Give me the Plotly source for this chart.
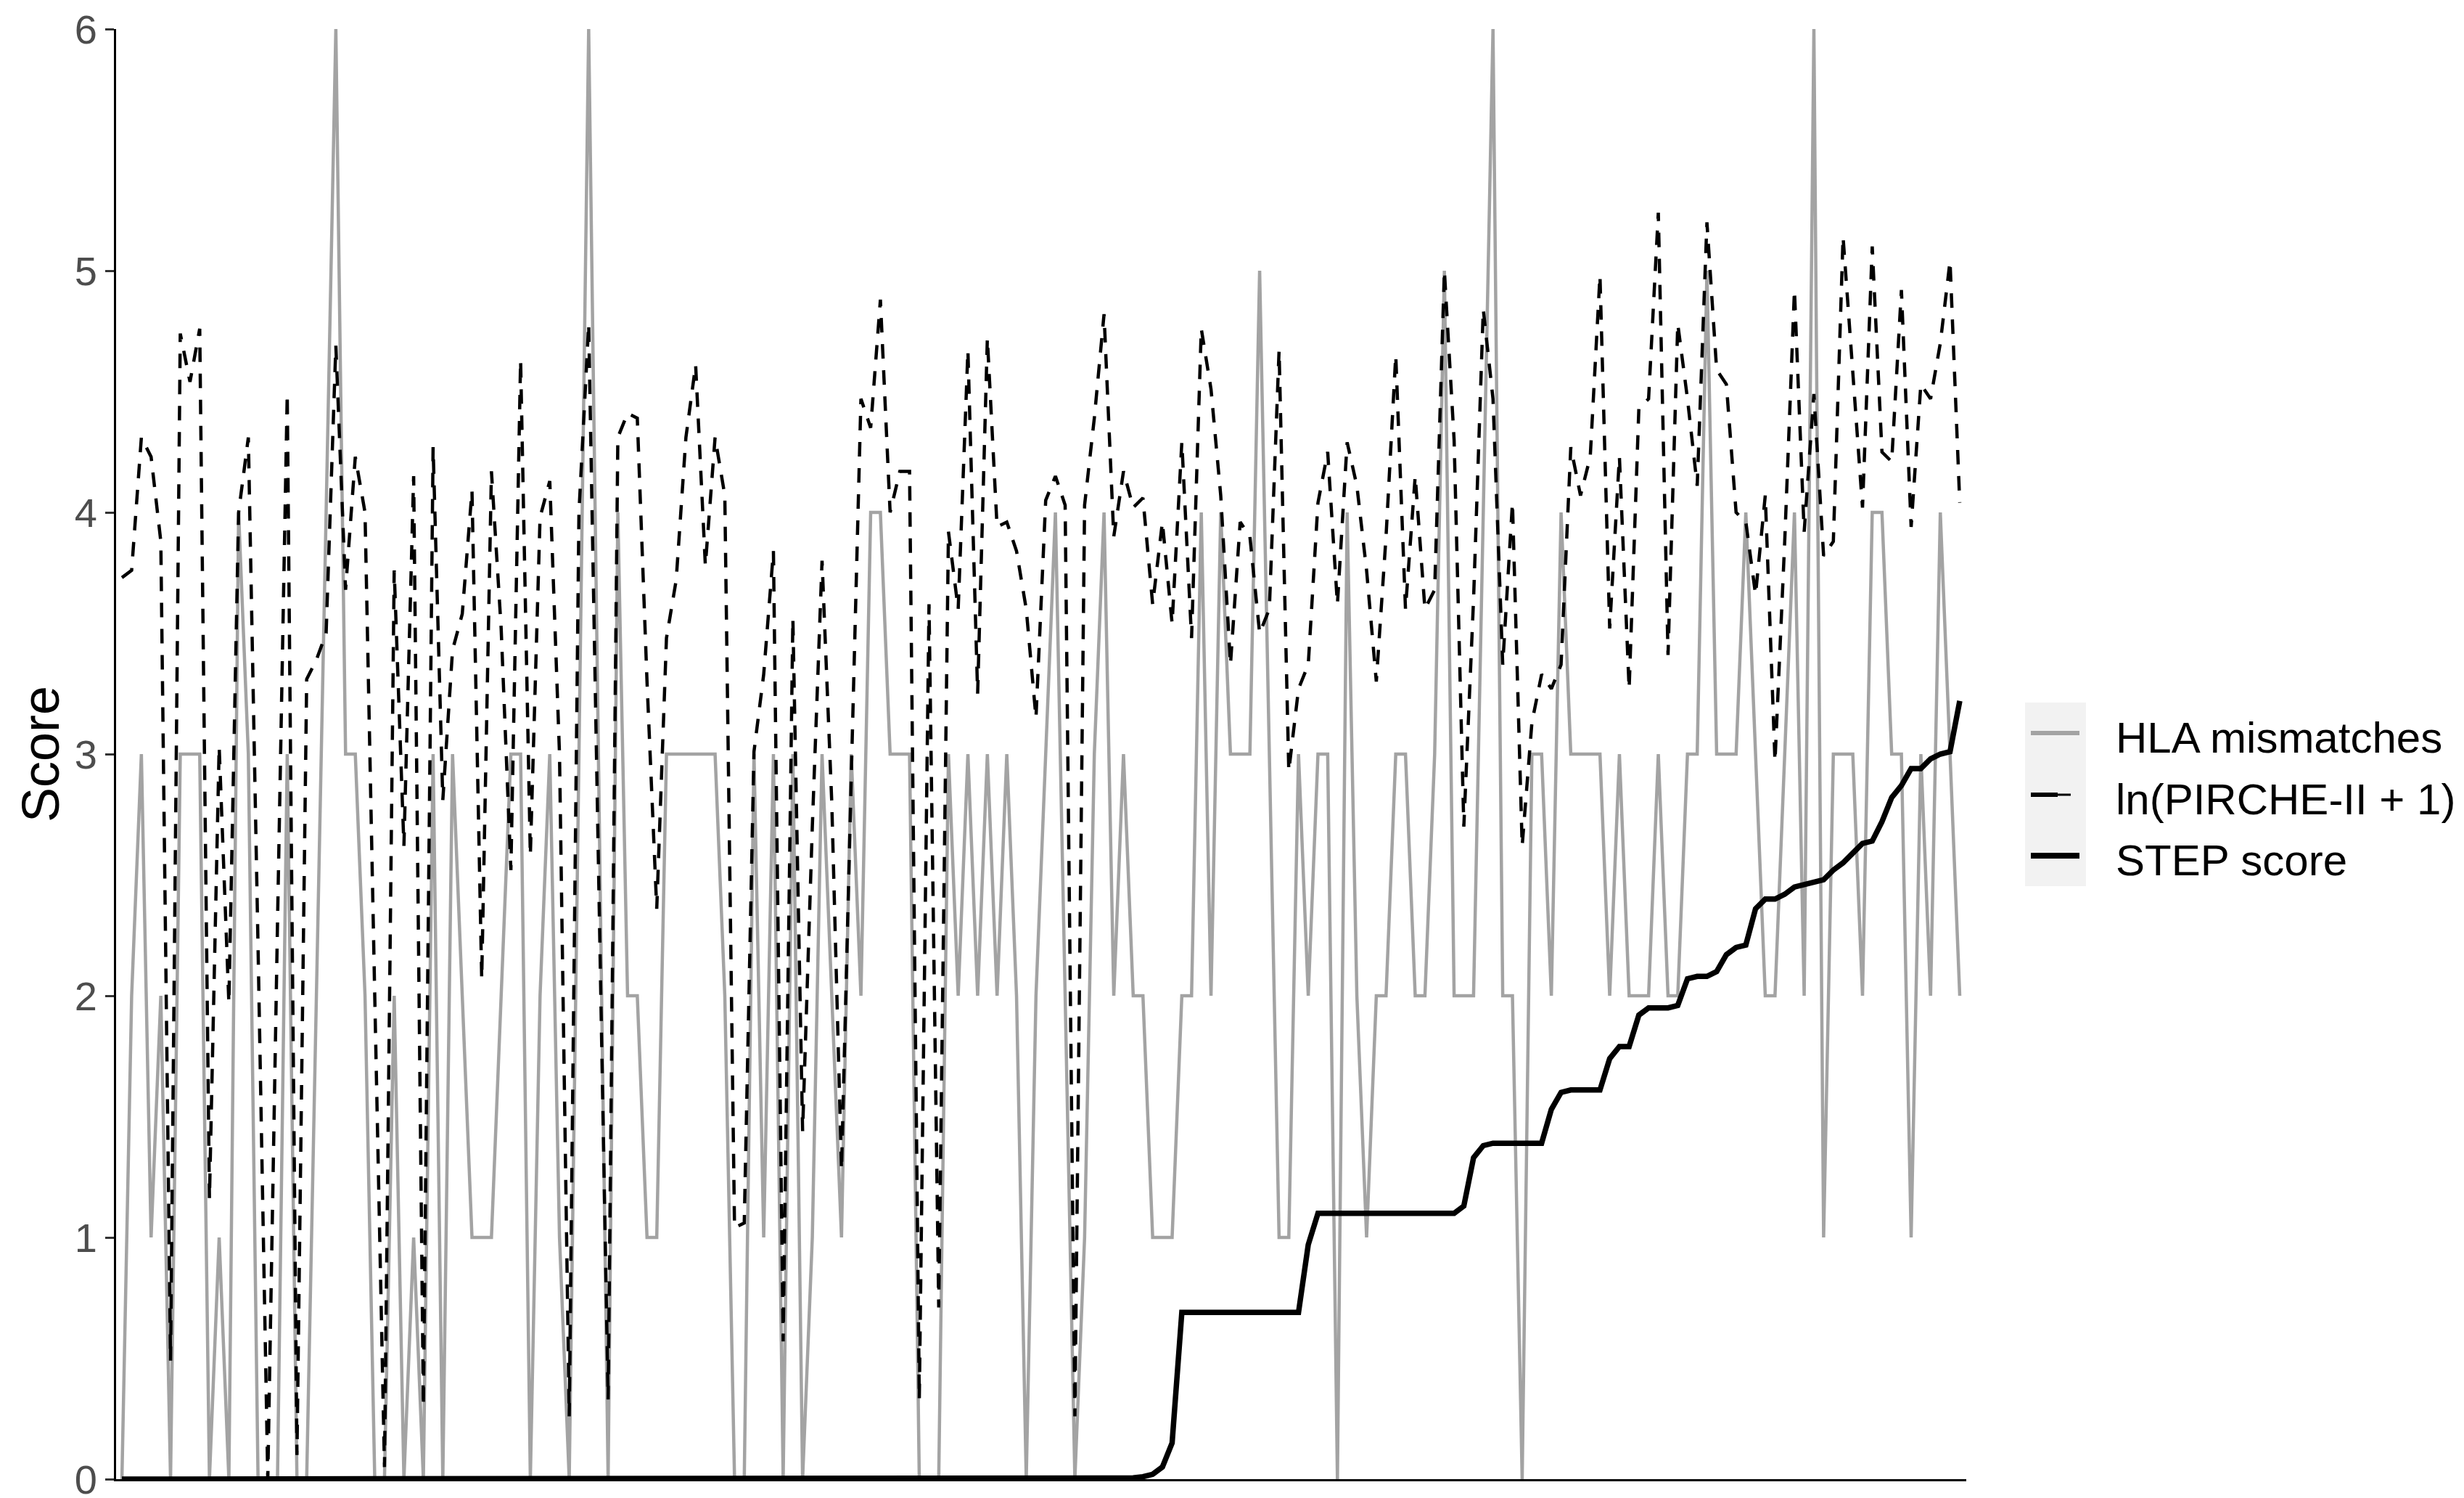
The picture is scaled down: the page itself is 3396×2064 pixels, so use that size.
import plotly.graph_objects as go

# ---------------- data ----------------
hla_mismatches = [
    0, 2, 3, 1, 2, 0, 3, 3, 3, 0, 1, 0, 4, 3, 0, 0, 0, 3, 0, 0,
    2, 4, 6, 3, 3, 2, 0, 0, 2, 0, 1, 0, 3, 0, 3, 2, 1, 1, 1, 2,
    3, 3, 0, 2, 3, 1, 0, 3, 6, 3, 0, 4, 2, 2, 1, 1, 3, 3, 3, 3,
    3, 3, 2, 0, 0, 3, 1, 3, 0, 3, 0, 1, 3, 2, 1, 3, 2, 4, 4, 3,
    3, 3, 0, 0, 0, 3, 2, 3, 2, 3, 2, 3, 2, 0, 2, 3, 4, 2, 0, 1,
    3, 4, 2, 3, 2, 2, 1, 1, 1, 2, 2, 4, 2, 4, 3, 3, 3, 5, 3, 1,
    1, 3, 2, 3, 3, 0, 4, 2, 1, 2, 2, 3, 3, 2, 2, 3, 5, 2, 2, 2,
    4, 6, 2, 2, 0, 3, 3, 2, 4, 3, 3, 3, 3, 2, 3, 2, 2, 2, 3, 2,
    2, 3, 3, 5, 3, 3, 3, 4, 3, 2, 2, 3, 4, 2, 6, 1, 3, 3, 3, 2,
    4, 4, 3, 3, 1, 3, 2, 4, 3, 2,
]

ln_pirche = [
    3.73, 3.76, 4.31, 4.23, 3.88, 0.49, 4.74, 4.54, 4.76, 1.16,
    3.03, 1.97, 4.00, 4.31, 2.20, 0.00, 2.30, 4.49, 0.10, 3.31,
    3.39, 3.50, 4.69, 3.68, 4.23, 4.00, 2.00, 0.05, 3.76, 2.62,
    4.15, 0.30, 4.27, 2.81, 3.43, 3.58, 4.09, 2.07, 4.17, 3.52,
    2.52, 4.63, 2.58, 3.98, 4.13, 3.00, 0.26, 4.00, 4.78, 2.60,
    0.33, 4.31, 4.41, 4.39, 3.30, 2.36, 3.48, 3.72, 4.31, 4.61,
    3.78, 4.31, 4.07, 1.04, 1.06, 3.01, 3.33, 3.84, 0.57, 3.56,
    1.44, 2.70, 3.80, 2.80, 1.28, 2.90, 4.47, 4.35, 4.88, 4.00,
    4.17, 4.17, 0.33, 3.62, 0.71, 3.92, 3.60, 4.67, 3.25, 4.72,
    3.94, 3.96, 3.84, 3.60, 3.15, 4.05, 4.15, 4.03, 0.26, 4.03,
    4.39, 4.82, 3.90, 4.17, 4.02, 4.06, 3.62, 3.96, 3.54, 4.29,
    3.48, 4.76, 4.51, 4.07, 3.37, 3.96, 3.90, 3.50, 3.60, 4.67,
    2.93, 3.27, 3.37, 4.04, 4.25, 3.62, 4.29, 4.11, 3.76, 3.30,
    3.90, 4.65, 3.60, 4.15, 3.60, 3.68, 5.00, 4.30, 2.70, 3.64,
    4.84, 4.47, 3.37, 4.04, 2.62, 3.13, 3.33, 3.27, 3.37, 4.27,
    4.07, 4.23, 4.98, 3.52, 4.23, 3.27, 4.43, 4.47, 5.24, 3.41,
    4.78, 4.47, 4.11, 5.20, 4.59, 4.53, 4.00, 3.96, 3.66, 4.07,
    2.97, 3.88, 4.92, 3.92, 4.49, 3.82, 3.88, 5.14, 4.59, 4.02,
    5.10, 4.25, 4.21, 4.92, 3.94, 4.53, 4.47, 4.70, 5.04, 4.04,
]

step_score = [0.0] * 104 + [
    0.005, 0.01, 0.02, 0.05, 0.15, 0.69, 0.69, 0.69, 0.69, 0.69,
    0.69, 0.69, 0.69, 0.69, 0.69, 0.69, 0.69, 0.69, 0.97, 1.10,
    1.10, 1.10, 1.10, 1.10, 1.10, 1.10, 1.10, 1.10, 1.10, 1.10,
    1.10, 1.10, 1.10, 1.10, 1.13, 1.33, 1.38, 1.39, 1.39, 1.39,
    1.39, 1.39, 1.39, 1.53, 1.60, 1.61, 1.61, 1.61, 1.61, 1.74,
    1.79, 1.79, 1.92, 1.95, 1.95, 1.95, 1.96, 2.07, 2.08, 2.08,
    2.10, 2.17, 2.20, 2.21, 2.36, 2.40, 2.40, 2.42, 2.45, 2.46,
    2.47, 2.48, 2.52, 2.55, 2.59, 2.63, 2.64, 2.72, 2.82, 2.87,
    2.94, 2.94, 2.98, 3.00, 3.01, 3.22,
]

series_names = ["HLA mismatches", "ln(PIRCHE-II + 1)", "STEP score"]
y_ticks = [0, 1, 2, 3, 4, 5, 6]
y_title = "Score"

patients = list(range(len(hla_mismatches)))

# ---------------- layout geometry (pixels) ----------------
W, H = 3396, 2064
L, R = 152, 2702          # plot area left/right
T, B = 32, 2030           # plot area top/bottom
FONT = "Liberation Sans, Arial, sans-serif"

GRAY = "#A3A3A3"
styles = [
    dict(color=GRAY, width=4.5, dash="solid"),
    dict(color="black", width=4.5, dash="20px,16px"),
    dict(color="black", width=7.5, dash="solid"),
]

fig = go.Figure()
for name, ys, st in zip(series_names, [hla_mismatches, ln_pirche, step_score], styles):
    fig.add_trace(go.Scatter(
        x=patients, y=ys, mode="lines", name=name,
        line=dict(color=st["color"], width=st["width"], dash=st["dash"]),
        showlegend=False, hoverinfo="skip",
    ))

n = len(patients)
fig.update_layout(
    width=W, height=H,
    margin=dict(l=L, r=W - R, t=T, b=H - B, pad=0, autoexpand=False),
    paper_bgcolor="white", plot_bgcolor="white",
    font=dict(family=FONT, size=60, color="black"),
    xaxis=dict(range=[-0.6, n - 1 + 0.67], showgrid=False, zeroline=False,
               showticklabels=False, ticks="", showline=True, automargin=False,
               linecolor="black", linewidth=3),
    yaxis=dict(range=[0, 6], tickvals=y_ticks, ticktext=[str(t) for t in y_ticks],
               showgrid=False, zeroline=False, showline=True, automargin=False,
               linecolor="black", linewidth=3, ticks="outside", ticklen=12,
               tickwidth=3, tickcolor="#333333", ticklabeloverflow="allow",
               tickfont=dict(family=FONT, size=56, color="#4D4D4D")),
)

def px_x(p):
    return (p - L) / (R - L)

def px_y(p):
    return (B - p) / (B - T)

# y-axis title
fig.add_annotation(text=y_title, x=px_x(48), y=0.5, xref="paper", yref="paper",
                   textangle=-90, showarrow=False, xanchor="center", yanchor="middle",
                   font=dict(family=FONT, size=72, color="black"))

# ---------------- legend (drawn manually, ggplot style) ----------------
fig.add_shape(type="rect", xref="paper", yref="paper",
              x0=px_x(2783), x1=px_x(2867), y0=px_y(1213), y1=px_y(960),
              fillcolor="#F2F2F2", line=dict(width=0), layer="below")
key_y = [1002, 1087, 1171]
key_w = [6, 6, 8]
for name, st, ky, kw in zip(series_names, styles, key_y, key_w):
    if st["dash"] == "solid":
        fig.add_shape(type="line", xref="paper", yref="paper",
                      x0=px_x(2791), x1=px_x(2858), y0=px_y(ky), y1=px_y(ky),
                      line=dict(color=st["color"], width=kw))
    else:
        fig.add_shape(type="line", xref="paper", yref="paper",
                      x0=px_x(2791), x1=px_x(2828), y0=px_y(ky), y1=px_y(ky),
                      line=dict(color=st["color"], width=kw))
        fig.add_shape(type="line", xref="paper", yref="paper",
                      x0=px_x(2828), x1=px_x(2846), y0=px_y(ky), y1=px_y(ky),
                      line=dict(color=st["color"], width=3))
    fig.add_annotation(text=name, x=px_x(2906), y=px_y(ky + 6), xref="paper", yref="paper",
                       showarrow=False, xanchor="left", yanchor="middle",
                       font=dict(family=FONT, size=60, color="black"))

fig.write_html("out.html")
